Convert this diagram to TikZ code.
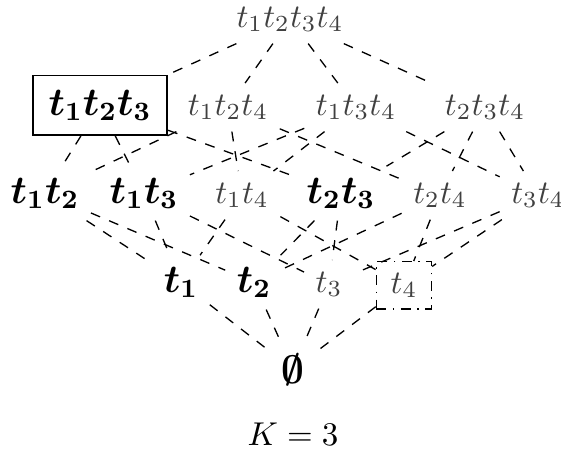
\documentclass[tikz,border=0pt]{standalone}
\usepackage{amsmath}
\usepackage{bm}
\begin{document}
\begin{tikzpicture}[x=0.303pt,y=-0.303pt,
  gnode/.style={text=black!75, anchor=base},
  bnode/.style={font=\large, anchor=base},
  edge/.style={dashed, line width=0.4pt}]
\useasboundingbox (0,0) rectangle (561,450);
% top
\node[gnode] (n1234) at (290,27) {$t_1t_2t_3t_4$};
% row 1
\node[bnode, draw, line width=0.5pt, inner xsep=4.8pt, inner ysep=4.3pt] (n123) at (100,115) {$\bm{t_1t_2t_3}$};
\node[gnode] (n124) at (228,115) {$t_1t_2t_4$};
\node[gnode] (n134) at (356,115) {$t_1t_3t_4$};
\node[gnode] (n234) at (485,115) {$t_2t_3t_4$};
% row 2
\node[bnode] (n12) at (45,203) {$\bm{t_1t_2}$};
\node[bnode] (n13) at (144,203) {$\bm{t_1t_3}$};
\node[gnode] (n14) at (242,203) {$t_1t_4$};
\node[bnode] (n23) at (341,203) {$\bm{t_2t_3}$};
\node[gnode] (n24) at (440,203) {$t_2t_4$};
\node[gnode] (n34) at (538,203) {$t_3t_4$};
% row 3
\node[bnode] (n1) at (181,292) {$\bm{t_1}$};
\node[bnode] (n2) at (254,292) {$\bm{t_2}$};
\node[gnode] (n3) at (329,292) {$t_3$};
\node[gnode, draw=black, dash dot, inner xsep=4.3pt] (n4) at (404,293) {$t_4$};
% bottom
\node[bnode] (n0) at (293,383) {$\bm{\emptyset}$};
\node[anchor=base] (k) at (293,445) {$K=3$};
% edges
\foreach \a/\b in {n1234/n123, n1234/n124, n1234/n134, n1234/n234,
  n123/n12, n123/n13, n123/n23,
  n124/n12, n124/n14, n124/n24,
  n134/n13, n134/n14, n134/n34,
  n234/n23, n234/n24, n234/n34,
  n12/n1, n12/n2, n13/n1, n13/n3, n14/n1, n14/n4,
  n23/n2, n23/n3, n24/n2, n24/n4, n34/n3, n34/n4,
  n1/n0, n2/n0, n3/n0, n4/n0}
  \draw[edge] (\a) -- (\b);
\end{tikzpicture}
\end{document}
